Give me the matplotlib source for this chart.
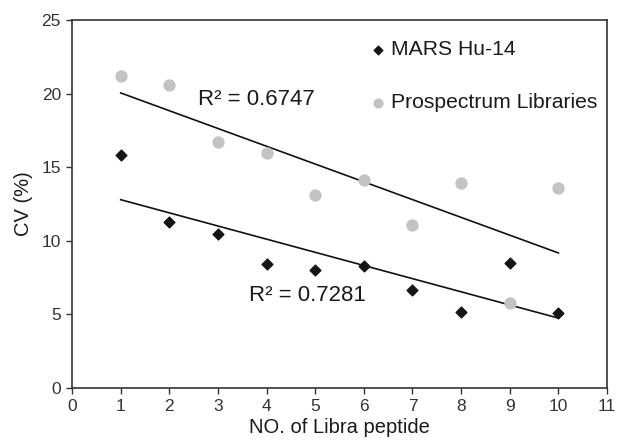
import numpy as np
import matplotlib
matplotlib.use("Agg")
import matplotlib.pyplot as plt

# ── Data ──
peptides = [1, 2, 3, 4, 5, 6, 7, 8, 9, 10]
mars_cv = [15.8, 11.3, 10.45, 8.45, 8.0, 8.3, 6.65, 5.15, 8.5, 5.1]
prosp_cv = [21.2, 20.6, 16.7, 15.95, 13.1, 14.1, 11.1, 13.95, 5.8, 13.6]
r2_labels = ["R² = 0.6747", "R² = 0.7281"]

plt.rcParams.update({
    "font.family": ["Liberation Sans", "DejaVu Sans"],
    "axes.edgecolor": "#333333",
    "xtick.color": "#333333",
    "ytick.color": "#333333",
})

fig = plt.figure(figsize=(6.17, 4.42), dpi=100)
ax = fig.add_axes([0.1167, 0.1222, 0.8671, 0.8326])

ax.scatter(peptides, mars_cv, marker="D", s=30, color="#151515", zorder=3, label="MARS Hu-14")
ax.scatter(peptides, prosp_cv, marker="o", s=62, color="#c2c3c7", zorder=3,
           label="Prospectrum Libraries")

# linear trendlines (least squares, like Excel)
xs = np.array(peptides, dtype=float)
for ys in (prosp_cv, mars_cv):
    k, b = np.polyfit(xs, ys, 1)
    ax.plot([xs[0], xs[-1]], [k * xs[0] + b, k * xs[-1] + b], color="#111111", lw=1.2, zorder=2)

ax.text(2.59, 19.6, r2_labels[0], fontsize=16, va="center", ha="left", color="#1a1a1a")
ax.text(3.64, 6.27, r2_labels[1], fontsize=16, va="center", ha="left", color="#1a1a1a")

ax.set_xlim(0, 11)
ax.set_ylim(0, 25)
ax.set_xticks(range(0, 12))
ax.set_yticks(range(0, 26, 5))
ax.tick_params(direction="out", length=4, width=1, labelsize=12.5, pad=4)
ax.set_xlabel("NO. of Libra peptide", fontsize=14.5, labelpad=3, color="#1a1a1a")
ax.set_ylabel("CV (%)", fontsize=14.5, labelpad=6, color="#1a1a1a")
for sp in ax.spines.values():
    sp.set_linewidth(1.2)

leg = ax.legend(loc="upper left", bbox_to_anchor=(0.535, 0.985), frameon=False,
                fontsize=15.2, handlelength=0.5, handletextpad=0.35,
                labelspacing=1.6, borderpad=0.2, markerscale=0.8, scatterpoints=1)
for t in leg.get_texts():
    t.set_color("#1a1a1a")

fig.savefig("out.png", dpi=100)
